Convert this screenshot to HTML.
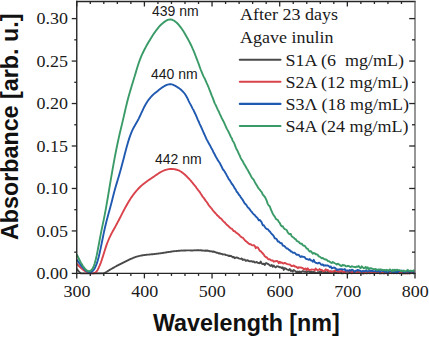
<!DOCTYPE html>
<html><head><meta charset="utf-8"><style>
html,body{margin:0;padding:0;background:#fff;width:429px;height:337px;overflow:hidden}
svg{display:block}
.serif{font-family:"Liberation Serif",serif;font-size:17.4px;fill:#1a1a1a}
.sans{font-family:"Liberation Sans",sans-serif;font-size:14px;fill:#1a1a1a}
.bold{font-family:"Liberation Sans",sans-serif;font-weight:bold;font-size:23.3px;fill:#111}
</style></head><body>
<svg width="429" height="337" viewBox="0 0 429 337">
<rect width="429" height="337" fill="#fff"/>
<path d="M76.75 268.72 L77.75 270.04 L78.75 271.29 L79.75 272.39 L80.75 273.27 L81.75 273.40 L82.75 273.40 L83.75 273.40 L84.75 273.40 L85.75 273.40 L86.75 273.40 L87.75 273.40 L88.75 273.40 L89.75 273.40 L90.75 273.40 L91.75 273.40 L92.75 273.40 L93.75 273.40 L94.75 273.40 L95.75 273.40 L96.75 273.40 L97.75 273.40 L98.75 273.40 L99.75 273.40 L100.75 273.40 L101.75 273.40 L102.75 273.40 L103.75 273.21 L104.75 272.81 L105.75 272.31 L106.75 271.76 L107.75 271.16 L108.75 270.54 L109.75 269.91 L110.75 269.31 L111.75 268.71 L112.75 268.13 L113.75 267.57 L114.75 267.01 L115.75 266.46 L116.75 265.92 L117.75 265.39 L118.75 264.86 L119.75 264.34 L120.75 263.83 L121.75 263.32 L122.75 262.82 L123.75 262.33 L124.75 261.83 L125.75 261.34 L126.75 260.86 L127.75 260.38 L128.75 259.90 L129.75 259.43 L130.75 258.97 L131.75 258.52 L132.75 258.10 L133.75 257.69 L134.75 257.31 L135.75 256.96 L136.75 256.64 L137.75 256.35 L138.75 256.09 L139.75 255.86 L140.75 255.66 L141.75 255.47 L142.75 255.31 L143.75 255.16 L144.75 255.03 L145.75 254.90 L146.75 254.79 L147.75 254.68 L148.75 254.58 L149.75 254.48 L150.75 254.38 L151.75 254.29 L152.75 254.19 L153.75 254.09 L154.75 253.99 L155.75 253.89 L156.75 253.78 L157.75 253.66 L158.75 253.53 L159.75 253.40 L160.75 253.25 L161.75 253.10 L162.75 252.95 L163.75 252.79 L164.75 252.63 L165.75 252.47 L166.75 252.31 L167.75 252.15 L168.75 251.99 L169.75 251.84 L170.75 251.69 L171.75 251.56 L172.75 251.42 L173.75 251.30 L174.75 251.18 L175.75 251.07 L176.75 250.97 L177.75 250.88 L178.75 250.80 L179.75 250.72 L180.75 250.67 L181.75 250.57 L182.75 250.58 L183.75 250.48 L184.75 250.55 L185.75 250.48 L186.75 250.42 L187.75 250.42 L188.75 250.37 L189.75 250.39 L190.75 250.44 L191.75 250.37 L192.75 250.46 L193.75 250.39 L194.75 250.32 L195.75 250.41 L196.75 250.28 L197.75 250.28 L198.75 250.15 L199.75 250.42 L200.75 250.13 L201.75 250.67 L202.75 250.42 L203.75 250.61 L204.75 250.77 L205.75 250.55 L206.75 250.75 L207.75 250.55 L208.75 250.91 L209.75 251.40 L210.75 251.15 L211.75 251.36 L212.75 251.74 L213.75 251.50 L214.75 251.97 L215.75 252.27 L216.75 252.88 L217.75 252.82 L218.75 253.48 L219.75 253.27 L220.75 253.78 L221.75 253.86 L222.75 254.43 L223.75 254.33 L224.75 254.37 L225.75 255.10 L226.75 255.09 L227.75 255.40 L228.75 256.03 L229.75 255.73 L230.75 255.96 L231.75 256.46 L232.75 257.31 L233.75 256.88 L234.75 258.22 L235.75 257.67 L236.75 257.52 L237.75 257.85 L238.75 258.37 L239.75 258.68 L240.75 258.83 L241.75 258.45 L242.75 259.96 L243.75 259.52 L244.75 259.66 L245.75 260.86 L246.75 260.52 L247.75 260.18 L248.75 261.09 L249.75 261.28 L250.75 261.09 L251.75 261.28 L252.75 261.83 L253.75 261.36 L254.75 262.47 L255.75 262.32 L256.75 261.98 L257.75 262.86 L258.75 262.93 L259.75 263.28 L260.75 261.54 L261.75 263.71 L262.75 264.04 L263.75 263.62 L264.75 265.00 L265.75 263.26 L266.75 263.19 L267.75 263.91 L268.75 264.43 L269.75 265.39 L270.75 265.97 L271.75 264.91 L272.75 266.72 L273.75 265.53 L274.75 266.80 L275.75 267.39 L276.75 266.30 L277.75 266.36 L278.75 266.74 L279.75 267.31 L280.75 267.30 L281.75 268.13 L282.75 267.36 L283.75 269.91 L284.75 268.11 L285.75 268.62 L286.75 269.32 L287.75 269.67 L288.75 270.30 L289.75 268.96 L290.75 270.90 L291.75 270.47 L292.75 271.51 L293.75 270.05 L294.75 270.72 L295.75 271.25 L296.75 273.03 L297.75 271.48 L298.75 272.66 L299.75 271.43 L300.75 272.59 L301.75 271.62 L302.75 271.21 L303.75 271.49 L304.75 271.82 L305.75 271.40 L306.75 272.24 L307.75 271.63 L308.75 271.54 L309.75 272.24 L310.75 271.99 L311.75 271.79 L312.75 272.17 L313.75 272.04 L314.75 272.12 L315.75 273.06 L316.75 273.13 L317.75 272.09 L318.75 272.41 L319.75 271.71 L320.75 272.75 L321.75 271.64 L322.75 271.94 L323.75 272.19 L324.75 271.61 L325.75 272.48 L326.75 272.34 L327.75 271.85 L328.75 272.85 L329.75 272.61 L330.75 272.57 L331.75 272.57 L332.75 271.53 L333.75 273.28 L334.75 271.17 L335.75 273.10 L336.75 272.90 L337.75 272.70 L338.75 272.06 L339.75 272.60 L340.75 272.53 L341.75 273.40 L342.75 273.40 L343.75 272.72 L344.75 271.69 L345.75 273.13 L346.75 273.40 L347.75 273.30 L348.75 273.19 L349.75 272.47 L350.75 272.23 L351.75 272.54 L352.75 272.65 L353.75 272.72 L354.75 272.37 L355.75 271.97 L356.75 272.73 L357.75 272.00 L358.75 272.21 L359.75 272.65 L360.75 273.40 L361.75 273.25 L362.75 273.02 L363.75 273.40 L364.75 272.52 L365.75 273.05 L366.75 273.40 L367.75 273.01 L368.75 272.09 L369.75 273.36 L370.75 272.64 L371.75 272.90 L372.75 272.00 L373.75 273.40 L374.75 272.48 L375.75 272.67 L376.75 271.91 L377.75 272.72 L378.75 272.56 L379.75 272.42 L380.75 273.40 L381.75 273.40 L382.75 272.31 L383.75 273.40 L384.75 272.45 L385.75 271.92 L386.75 272.47 L387.75 273.36 L388.75 273.27 L389.75 272.22 L390.75 272.69 L391.75 273.29 L392.75 271.92 L393.75 272.89 L394.75 272.87 L395.75 273.10 L396.75 273.27 L397.75 272.80 L398.75 272.49 L399.75 273.40 L400.75 271.51 L401.75 273.05 L402.75 273.40 L403.75 273.40 L404.75 273.06 L405.75 273.40 L406.75 272.09 L407.75 273.40 L408.75 272.79 L409.75 273.40 L410.75 272.52 L411.75 272.35 L412.75 272.82 L413.75 273.40 L414.75 272.31" fill="none" stroke="#4a4a4a" stroke-width="1.9" stroke-linejoin="round"/>
<path d="M76.75 263.73 L77.75 264.76 L78.75 265.78 L79.75 266.77 L80.75 267.73 L81.75 268.64 L82.75 269.49 L83.75 270.26 L84.75 270.93 L85.75 271.51 L86.75 271.99 L87.75 272.40 L88.75 272.73 L89.75 272.98 L90.75 273.18 L91.75 273.31 L92.75 273.38 L93.75 273.30 L94.75 272.98 L95.75 272.31 L96.75 271.20 L97.75 269.66 L98.75 267.72 L99.75 265.43 L100.75 262.83 L101.75 259.96 L102.75 256.88 L103.75 253.68 L104.75 250.46 L105.75 247.34 L106.75 244.41 L107.75 241.75 L108.75 239.33 L109.75 237.11 L110.75 235.06 L111.75 233.14 L112.75 231.30 L113.75 229.51 L114.75 227.72 L115.75 225.91 L116.75 224.05 L117.75 222.15 L118.75 220.22 L119.75 218.27 L120.75 216.31 L121.75 214.35 L122.75 212.41 L123.75 210.49 L124.75 208.61 L125.75 206.77 L126.75 204.97 L127.75 203.22 L128.75 201.53 L129.75 199.91 L130.75 198.34 L131.75 196.85 L132.75 195.43 L133.75 194.07 L134.75 192.78 L135.75 191.55 L136.75 190.38 L137.75 189.27 L138.75 188.22 L139.75 187.22 L140.75 186.27 L141.75 185.36 L142.75 184.50 L143.75 183.68 L144.75 182.90 L145.75 182.15 L146.75 181.43 L147.75 180.73 L148.75 180.05 L149.75 179.39 L150.75 178.73 L151.75 178.06 L152.75 177.40 L153.75 176.72 L154.75 176.03 L155.75 175.33 L156.75 174.64 L157.75 173.96 L158.75 173.30 L159.75 172.66 L160.75 172.06 L161.75 171.51 L162.75 171.00 L163.75 170.56 L164.75 170.17 L165.75 169.83 L166.75 169.56 L167.75 169.34 L168.75 169.17 L169.75 169.05 L170.75 168.99 L171.75 168.98 L172.75 169.02 L173.75 169.11 L174.75 169.26 L175.75 169.47 L176.75 169.74 L177.75 170.08 L178.75 170.48 L179.75 170.96 L180.75 171.52 L181.75 172.17 L182.75 172.89 L183.75 173.72 L184.75 174.54 L185.75 175.45 L186.75 176.46 L187.75 177.56 L188.75 178.47 L189.75 179.62 L190.75 180.59 L191.75 181.98 L192.75 183.12 L193.75 184.41 L194.75 185.55 L195.75 186.73 L196.75 188.26 L197.75 189.60 L198.75 190.78 L199.75 192.09 L200.75 193.76 L201.75 195.10 L202.75 196.94 L203.75 197.91 L204.75 199.36 L205.75 200.85 L206.75 202.00 L207.75 203.52 L208.75 205.33 L209.75 206.35 L210.75 207.55 L211.75 208.67 L212.75 210.26 L213.75 211.46 L214.75 212.52 L215.75 213.50 L216.75 214.74 L217.75 215.82 L218.75 216.61 L219.75 217.94 L220.75 218.26 L221.75 219.45 L222.75 220.67 L223.75 221.69 L224.75 222.35 L225.75 223.71 L226.75 224.85 L227.75 225.60 L228.75 226.44 L229.75 227.52 L230.75 228.28 L231.75 228.66 L232.75 229.82 L233.75 231.15 L234.75 231.17 L235.75 232.39 L236.75 233.04 L237.75 233.67 L238.75 234.44 L239.75 235.67 L240.75 236.59 L241.75 237.44 L242.75 237.64 L243.75 238.94 L244.75 240.04 L245.75 241.12 L246.75 241.84 L247.75 242.70 L248.75 243.57 L249.75 244.18 L250.75 244.14 L251.75 245.13 L252.75 245.35 L253.75 245.11 L254.75 245.92 L255.75 248.17 L256.75 247.26 L257.75 247.37 L258.75 248.90 L259.75 250.80 L260.75 251.09 L261.75 252.47 L262.75 253.32 L263.75 254.56 L264.75 256.30 L265.75 257.00 L266.75 257.38 L267.75 258.65 L268.75 259.41 L269.75 259.30 L270.75 260.07 L271.75 260.51 L272.75 260.38 L273.75 261.74 L274.75 261.28 L275.75 261.27 L276.75 260.88 L277.75 261.31 L278.75 263.14 L279.75 261.72 L280.75 262.83 L281.75 262.53 L282.75 263.25 L283.75 263.50 L284.75 262.90 L285.75 263.44 L286.75 263.93 L287.75 264.21 L288.75 264.41 L289.75 264.53 L290.75 265.39 L291.75 266.11 L292.75 265.95 L293.75 265.48 L294.75 266.47 L295.75 266.57 L296.75 267.10 L297.75 268.21 L298.75 267.24 L299.75 267.62 L300.75 267.34 L301.75 267.92 L302.75 267.96 L303.75 269.46 L304.75 268.86 L305.75 268.50 L306.75 270.16 L307.75 268.35 L308.75 269.79 L309.75 270.00 L310.75 269.85 L311.75 269.45 L312.75 269.62 L313.75 269.58 L314.75 270.34 L315.75 268.54 L316.75 269.70 L317.75 270.16 L318.75 269.77 L319.75 269.08 L320.75 270.08 L321.75 269.82 L322.75 270.80 L323.75 271.21 L324.75 270.46 L325.75 269.30 L326.75 270.39 L327.75 270.00 L328.75 271.01 L329.75 271.67 L330.75 270.89 L331.75 271.97 L332.75 271.70 L333.75 271.26 L334.75 270.38 L335.75 271.07 L336.75 270.19 L337.75 271.73 L338.75 271.23 L339.75 272.03 L340.75 271.43 L341.75 270.15 L342.75 271.75 L343.75 271.97 L344.75 272.46 L345.75 270.92 L346.75 271.00 L347.75 271.63 L348.75 271.01 L349.75 270.86 L350.75 271.07 L351.75 273.32 L352.75 271.42 L353.75 271.23 L354.75 271.60 L355.75 271.91 L356.75 272.72 L357.75 272.55 L358.75 272.49 L359.75 272.08 L360.75 272.18 L361.75 271.74 L362.75 271.25 L363.75 273.40 L364.75 271.94 L365.75 272.85 L366.75 272.08 L367.75 272.24 L368.75 272.23 L369.75 271.52 L370.75 272.32 L371.75 272.62 L372.75 272.91 L373.75 272.73 L374.75 273.07 L375.75 272.65 L376.75 272.49 L377.75 271.33 L378.75 272.21 L379.75 273.40 L380.75 272.64 L381.75 273.06 L382.75 272.47 L383.75 272.20 L384.75 273.40 L385.75 272.85 L386.75 273.40 L387.75 272.98 L388.75 272.49 L389.75 271.34 L390.75 272.75 L391.75 271.76 L392.75 271.38 L393.75 273.40 L394.75 273.16 L395.75 273.12 L396.75 272.78 L397.75 272.73 L398.75 273.01 L399.75 272.86 L400.75 272.82 L401.75 273.22 L402.75 271.31 L403.75 273.33 L404.75 272.42 L405.75 273.31 L406.75 273.40 L407.75 272.30 L408.75 273.29 L409.75 273.28 L410.75 272.39 L411.75 272.49 L412.75 272.88 L413.75 271.47 L414.75 272.54" fill="none" stroke="#d9434b" stroke-width="1.9" stroke-linejoin="round"/>
<path d="M76.75 259.62 L77.75 261.00 L78.75 262.37 L79.75 263.73 L80.75 265.06 L81.75 266.35 L82.75 267.57 L83.75 268.69 L84.75 269.68 L85.75 270.53 L86.75 271.21 L87.75 271.73 L88.75 272.06 L89.75 272.19 L90.75 272.09 L91.75 271.70 L92.75 270.97 L93.75 269.84 L94.75 268.27 L95.75 266.20 L96.75 263.60 L97.75 260.45 L98.75 256.71 L99.75 252.46 L100.75 247.83 L101.75 242.97 L102.75 238.03 L103.75 233.17 L104.75 228.54 L105.75 224.25 L106.75 220.27 L107.75 216.49 L108.75 212.84 L109.75 209.22 L110.75 205.54 L111.75 201.73 L112.75 197.77 L113.75 193.82 L114.75 190.02 L115.75 186.48 L116.75 183.12 L117.75 179.82 L118.75 176.47 L119.75 173.03 L120.75 169.48 L121.75 165.82 L122.75 162.03 L123.75 158.15 L124.75 154.24 L125.75 150.40 L126.75 146.69 L127.75 143.17 L128.75 139.89 L129.75 136.85 L130.75 134.08 L131.75 131.60 L132.75 129.42 L133.75 127.48 L134.75 125.70 L135.75 123.99 L136.75 122.28 L137.75 120.50 L138.75 118.58 L139.75 116.53 L140.75 114.40 L141.75 112.22 L142.75 110.06 L143.75 107.96 L144.75 105.97 L145.75 104.14 L146.75 102.47 L147.75 100.95 L148.75 99.56 L149.75 98.29 L150.75 97.12 L151.75 96.05 L152.75 95.06 L153.75 94.14 L154.75 93.27 L155.75 92.45 L156.75 91.65 L157.75 90.88 L158.75 90.10 L159.75 89.33 L160.75 88.57 L161.75 87.84 L162.75 87.15 L163.75 86.50 L164.75 85.91 L165.75 85.40 L166.75 84.96 L167.75 84.62 L168.75 84.38 L169.75 84.26 L170.75 84.27 L171.75 84.41 L172.75 84.67 L173.75 85.05 L174.75 85.52 L175.75 86.08 L176.75 86.70 L177.75 87.37 L178.75 88.08 L179.75 88.81 L180.75 89.59 L181.75 90.46 L182.75 91.36 L183.75 92.51 L184.75 93.73 L185.75 95.25 L186.75 96.95 L187.75 98.84 L188.75 101.08 L189.75 103.14 L190.75 104.89 L191.75 106.91 L192.75 108.87 L193.75 110.57 L194.75 112.75 L195.75 114.94 L196.75 117.15 L197.75 119.62 L198.75 121.72 L199.75 124.06 L200.75 126.22 L201.75 128.40 L202.75 130.57 L203.75 132.99 L204.75 135.07 L205.75 137.33 L206.75 139.63 L207.75 141.35 L208.75 143.29 L209.75 144.92 L210.75 146.91 L211.75 148.85 L212.75 150.51 L213.75 152.84 L214.75 154.51 L215.75 156.50 L216.75 158.18 L217.75 160.11 L218.75 161.47 L219.75 162.92 L220.75 165.01 L221.75 166.86 L222.75 169.23 L223.75 170.27 L224.75 171.78 L225.75 173.39 L226.75 175.39 L227.75 177.07 L228.75 179.21 L229.75 180.25 L230.75 181.88 L231.75 183.75 L232.75 184.89 L233.75 186.41 L234.75 188.46 L235.75 189.67 L236.75 191.82 L237.75 192.74 L238.75 194.51 L239.75 195.55 L240.75 197.19 L241.75 198.64 L242.75 199.91 L243.75 201.66 L244.75 203.48 L245.75 204.27 L246.75 205.61 L247.75 207.35 L248.75 208.01 L249.75 209.40 L250.75 210.81 L251.75 211.86 L252.75 213.24 L253.75 214.44 L254.75 214.99 L255.75 216.57 L256.75 217.35 L257.75 218.43 L258.75 220.22 L259.75 219.94 L260.75 221.06 L261.75 222.55 L262.75 225.21 L263.75 225.28 L264.75 226.83 L265.75 228.27 L266.75 228.97 L267.75 229.09 L268.75 230.56 L269.75 231.40 L270.75 232.79 L271.75 233.95 L272.75 234.88 L273.75 236.05 L274.75 238.37 L275.75 238.47 L276.75 239.25 L277.75 241.43 L278.75 241.45 L279.75 242.69 L280.75 243.18 L281.75 243.17 L282.75 245.67 L283.75 245.69 L284.75 246.38 L285.75 247.63 L286.75 248.47 L287.75 248.46 L288.75 249.75 L289.75 250.12 L290.75 251.49 L291.75 251.57 L292.75 252.75 L293.75 252.72 L294.75 252.75 L295.75 253.93 L296.75 254.80 L297.75 254.59 L298.75 254.96 L299.75 256.20 L300.75 257.01 L301.75 256.23 L302.75 256.81 L303.75 256.88 L304.75 257.24 L305.75 258.68 L306.75 259.14 L307.75 259.14 L308.75 259.88 L309.75 259.08 L310.75 260.37 L311.75 260.50 L312.75 261.77 L313.75 259.81 L314.75 262.08 L315.75 262.85 L316.75 263.05 L317.75 263.46 L318.75 262.69 L319.75 262.94 L320.75 264.30 L321.75 264.80 L322.75 264.35 L323.75 265.73 L324.75 265.28 L325.75 265.53 L326.75 265.44 L327.75 265.53 L328.75 265.98 L329.75 267.20 L330.75 266.41 L331.75 268.45 L332.75 267.97 L333.75 267.53 L334.75 267.68 L335.75 268.58 L336.75 270.02 L337.75 269.34 L338.75 269.85 L339.75 269.18 L340.75 269.12 L341.75 269.08 L342.75 269.67 L343.75 269.66 L344.75 269.10 L345.75 270.80 L346.75 270.43 L347.75 270.46 L348.75 270.88 L349.75 270.09 L350.75 270.85 L351.75 269.67 L352.75 269.95 L353.75 271.08 L354.75 271.65 L355.75 270.85 L356.75 270.46 L357.75 269.88 L358.75 270.57 L359.75 270.50 L360.75 271.04 L361.75 271.70 L362.75 270.95 L363.75 271.11 L364.75 271.47 L365.75 270.39 L366.75 270.87 L367.75 271.50 L368.75 271.06 L369.75 270.17 L370.75 271.17 L371.75 271.02 L372.75 270.96 L373.75 271.35 L374.75 271.10 L375.75 270.78 L376.75 271.58 L377.75 271.18 L378.75 270.64 L379.75 272.08 L380.75 271.21 L381.75 270.17 L382.75 271.04 L383.75 270.68 L384.75 271.87 L385.75 271.60 L386.75 271.96 L387.75 272.59 L388.75 271.48 L389.75 271.49 L390.75 271.01 L391.75 271.67 L392.75 272.39 L393.75 272.17 L394.75 271.19 L395.75 272.74 L396.75 270.99 L397.75 272.52 L398.75 271.26 L399.75 270.95 L400.75 271.34 L401.75 270.57 L402.75 271.39 L403.75 272.82 L404.75 272.11 L405.75 271.61 L406.75 271.59 L407.75 271.39 L408.75 271.85 L409.75 272.16 L410.75 271.37 L411.75 271.24 L412.75 271.65 L413.75 272.39 L414.75 271.76" fill="none" stroke="#2059b0" stroke-width="1.9" stroke-linejoin="round"/>
<path d="M76.75 254.30 L77.75 256.40 L78.75 258.47 L79.75 260.46 L80.75 262.35 L81.75 264.12 L82.75 265.74 L83.75 267.20 L84.75 268.49 L85.75 269.57 L86.75 270.41 L87.75 270.99 L88.75 271.26 L89.75 271.19 L90.75 270.71 L91.75 269.75 L92.75 268.23 L93.75 266.07 L94.75 263.20 L95.75 259.56 L96.75 255.15 L97.75 250.13 L98.75 244.79 L99.75 239.40 L100.75 234.16 L101.75 229.14 L102.75 224.34 L103.75 219.58 L104.75 214.65 L105.75 209.33 L106.75 203.69 L107.75 197.83 L108.75 191.86 L109.75 185.86 L110.75 179.91 L111.75 174.07 L112.75 168.37 L113.75 162.82 L114.75 157.45 L115.75 152.25 L116.75 147.24 L117.75 142.45 L118.75 137.87 L119.75 133.50 L120.75 129.28 L121.75 125.10 L122.75 120.90 L123.75 116.60 L124.75 112.22 L125.75 107.88 L126.75 103.69 L127.75 99.74 L128.75 96.03 L129.75 92.51 L130.75 89.12 L131.75 85.82 L132.75 82.57 L133.75 79.30 L134.75 75.97 L135.75 72.63 L136.75 69.31 L137.75 66.09 L138.75 63.03 L139.75 60.19 L140.75 57.59 L141.75 55.23 L142.75 53.04 L143.75 50.99 L144.75 49.02 L145.75 47.13 L146.75 45.31 L147.75 43.54 L148.75 41.82 L149.75 40.14 L150.75 38.50 L151.75 36.89 L152.75 35.33 L153.75 33.81 L154.75 32.35 L155.75 30.94 L156.75 29.59 L157.75 28.31 L158.75 27.11 L159.75 25.99 L160.75 24.96 L161.75 24.02 L162.75 23.16 L163.75 22.36 L164.75 21.64 L165.75 20.98 L166.75 20.40 L167.75 19.94 L168.75 19.61 L169.75 19.44 L170.75 19.45 L171.75 19.64 L172.75 20.00 L173.75 20.51 L174.75 21.14 L175.75 21.90 L176.75 22.78 L177.75 23.76 L178.75 24.86 L179.75 26.08 L180.75 27.35 L181.75 28.70 L182.75 30.21 L183.75 31.82 L184.75 33.49 L185.75 35.25 L186.75 36.96 L187.75 38.72 L188.75 40.67 L189.75 42.53 L190.75 44.49 L191.75 46.59 L192.75 48.91 L193.75 51.08 L194.75 53.56 L195.75 56.25 L196.75 58.91 L197.75 61.52 L198.75 64.20 L199.75 67.02 L200.75 69.74 L201.75 72.16 L202.75 74.52 L203.75 76.86 L204.75 78.55 L205.75 80.79 L206.75 83.12 L207.75 85.31 L208.75 87.74 L209.75 90.48 L210.75 92.84 L211.75 95.64 L212.75 97.89 L213.75 100.56 L214.75 103.36 L215.75 105.14 L216.75 107.45 L217.75 109.62 L218.75 111.42 L219.75 113.80 L220.75 115.87 L221.75 118.16 L222.75 119.99 L223.75 121.92 L224.75 124.15 L225.75 126.34 L226.75 128.65 L227.75 130.40 L228.75 132.29 L229.75 134.31 L230.75 136.69 L231.75 138.19 L232.75 140.96 L233.75 142.25 L234.75 144.69 L235.75 147.43 L236.75 149.57 L237.75 151.31 L238.75 153.72 L239.75 155.56 L240.75 158.10 L241.75 159.88 L242.75 161.24 L243.75 163.44 L244.75 164.89 L245.75 166.73 L246.75 168.49 L247.75 169.95 L248.75 172.08 L249.75 173.84 L250.75 175.56 L251.75 177.58 L252.75 178.69 L253.75 179.83 L254.75 181.91 L255.75 183.83 L256.75 185.30 L257.75 187.05 L258.75 188.62 L259.75 189.61 L260.75 191.06 L261.75 192.09 L262.75 194.61 L263.75 195.54 L264.75 196.80 L265.75 198.56 L266.75 200.83 L267.75 203.87 L268.75 205.52 L269.75 206.28 L270.75 209.21 L271.75 211.47 L272.75 213.65 L273.75 215.36 L274.75 216.54 L275.75 218.71 L276.75 219.54 L277.75 219.80 L278.75 221.86 L279.75 222.99 L280.75 225.10 L281.75 226.31 L282.75 226.20 L283.75 228.08 L284.75 229.18 L285.75 229.40 L286.75 230.15 L287.75 232.42 L288.75 233.63 L289.75 234.22 L290.75 233.93 L291.75 236.48 L292.75 237.03 L293.75 237.69 L294.75 238.83 L295.75 239.13 L296.75 240.92 L297.75 241.35 L298.75 241.79 L299.75 243.08 L300.75 243.68 L301.75 243.58 L302.75 245.19 L303.75 245.79 L304.75 245.79 L305.75 247.21 L306.75 248.61 L307.75 248.72 L308.75 250.66 L309.75 251.54 L310.75 251.04 L311.75 252.23 L312.75 253.76 L313.75 253.02 L314.75 253.32 L315.75 254.22 L316.75 254.26 L317.75 254.87 L318.75 256.39 L319.75 256.57 L320.75 257.52 L321.75 258.20 L322.75 257.97 L323.75 258.82 L324.75 259.26 L325.75 259.49 L326.75 259.84 L327.75 260.97 L328.75 261.12 L329.75 261.81 L330.75 262.60 L331.75 262.98 L332.75 262.06 L333.75 262.55 L334.75 263.23 L335.75 263.77 L336.75 264.55 L337.75 263.68 L338.75 264.26 L339.75 264.91 L340.75 265.72 L341.75 266.02 L342.75 264.79 L343.75 265.44 L344.75 265.25 L345.75 266.40 L346.75 266.31 L347.75 265.96 L348.75 265.93 L349.75 266.59 L350.75 267.12 L351.75 266.17 L352.75 266.54 L353.75 266.90 L354.75 266.93 L355.75 267.22 L356.75 266.50 L357.75 266.84 L358.75 266.03 L359.75 267.41 L360.75 268.12 L361.75 266.34 L362.75 267.30 L363.75 268.33 L364.75 267.81 L365.75 266.87 L366.75 268.82 L367.75 267.37 L368.75 269.16 L369.75 268.10 L370.75 268.14 L371.75 268.69 L372.75 268.77 L373.75 269.25 L374.75 269.30 L375.75 269.01 L376.75 269.99 L377.75 269.72 L378.75 269.55 L379.75 269.56 L380.75 269.50 L381.75 269.59 L382.75 270.11 L383.75 270.07 L384.75 269.87 L385.75 270.52 L386.75 269.81 L387.75 270.28 L388.75 270.59 L389.75 269.45 L390.75 270.00 L391.75 271.20 L392.75 269.66 L393.75 270.96 L394.75 269.66 L395.75 270.57 L396.75 269.71 L397.75 270.00 L398.75 270.17 L399.75 270.08 L400.75 271.03 L401.75 270.94 L402.75 270.97 L403.75 270.58 L404.75 271.45 L405.75 271.09 L406.75 270.68 L407.75 269.86 L408.75 270.90 L409.75 270.89 L410.75 270.55 L411.75 270.93 L412.75 270.96 L413.75 270.32 L414.75 270.84" fill="none" stroke="#3a9b68" stroke-width="1.9" stroke-linejoin="round"/>

<g stroke="#262626" stroke-width="1.3" fill="none">
<line x1="76.75" y1="0.8" x2="76.75" y2="274.09999999999997" stroke-width="1.4"/>
<line x1="76.05" y1="1.5" x2="415.7" y2="1.5" stroke-width="1.3"/>
<line x1="76.05" y1="273.4" x2="415.7" y2="273.4" stroke-width="1.4"/>
<line x1="415.0" y1="1.5" x2="415.0" y2="273.4" stroke-width="1.4" stroke="#6a6a6a"/>
<line x1="76.75" y1="273.4" x2="76.75" y2="278.4"/><line x1="76.75" y1="1.5" x2="76.75" y2="6.5"/><line x1="90.28" y1="273.4" x2="90.28" y2="275.9"/><line x1="90.28" y1="1.5" x2="90.28" y2="4.0"/><line x1="103.81" y1="273.4" x2="103.81" y2="275.9"/><line x1="103.81" y1="1.5" x2="103.81" y2="4.0"/><line x1="117.34" y1="273.4" x2="117.34" y2="275.9"/><line x1="117.34" y1="1.5" x2="117.34" y2="4.0"/><line x1="130.87" y1="273.4" x2="130.87" y2="275.9"/><line x1="130.87" y1="1.5" x2="130.87" y2="4.0"/><line x1="144.40" y1="273.4" x2="144.40" y2="278.4"/><line x1="144.40" y1="1.5" x2="144.40" y2="6.5"/><line x1="157.93" y1="273.4" x2="157.93" y2="275.9"/><line x1="157.93" y1="1.5" x2="157.93" y2="4.0"/><line x1="171.46" y1="273.4" x2="171.46" y2="275.9"/><line x1="171.46" y1="1.5" x2="171.46" y2="4.0"/><line x1="184.99" y1="273.4" x2="184.99" y2="275.9"/><line x1="184.99" y1="1.5" x2="184.99" y2="4.0"/><line x1="198.52" y1="273.4" x2="198.52" y2="275.9"/><line x1="198.52" y1="1.5" x2="198.52" y2="4.0"/><line x1="212.05" y1="273.4" x2="212.05" y2="278.4"/><line x1="212.05" y1="1.5" x2="212.05" y2="6.5"/><line x1="225.58" y1="273.4" x2="225.58" y2="275.9"/><line x1="225.58" y1="1.5" x2="225.58" y2="4.0"/><line x1="239.11" y1="273.4" x2="239.11" y2="275.9"/><line x1="239.11" y1="1.5" x2="239.11" y2="4.0"/><line x1="252.64" y1="273.4" x2="252.64" y2="275.9"/><line x1="252.64" y1="1.5" x2="252.64" y2="4.0"/><line x1="266.17" y1="273.4" x2="266.17" y2="275.9"/><line x1="266.17" y1="1.5" x2="266.17" y2="4.0"/><line x1="279.70" y1="273.4" x2="279.70" y2="278.4"/><line x1="279.70" y1="1.5" x2="279.70" y2="6.5"/><line x1="293.23" y1="273.4" x2="293.23" y2="275.9"/><line x1="293.23" y1="1.5" x2="293.23" y2="4.0"/><line x1="306.76" y1="273.4" x2="306.76" y2="275.9"/><line x1="306.76" y1="1.5" x2="306.76" y2="4.0"/><line x1="320.29" y1="273.4" x2="320.29" y2="275.9"/><line x1="320.29" y1="1.5" x2="320.29" y2="4.0"/><line x1="333.82" y1="273.4" x2="333.82" y2="275.9"/><line x1="333.82" y1="1.5" x2="333.82" y2="4.0"/><line x1="347.35" y1="273.4" x2="347.35" y2="278.4"/><line x1="347.35" y1="1.5" x2="347.35" y2="6.5"/><line x1="360.88" y1="273.4" x2="360.88" y2="275.9"/><line x1="360.88" y1="1.5" x2="360.88" y2="4.0"/><line x1="374.41" y1="273.4" x2="374.41" y2="275.9"/><line x1="374.41" y1="1.5" x2="374.41" y2="4.0"/><line x1="387.94" y1="273.4" x2="387.94" y2="275.9"/><line x1="387.94" y1="1.5" x2="387.94" y2="4.0"/><line x1="401.47" y1="273.4" x2="401.47" y2="275.9"/><line x1="401.47" y1="1.5" x2="401.47" y2="4.0"/><line x1="415.00" y1="273.4" x2="415.00" y2="278.4"/><line x1="76.75" y1="273.40" x2="71.75" y2="273.40"/><line x1="415.0" y1="273.40" x2="409.2" y2="273.40"/><line x1="76.75" y1="252.17" x2="74.25" y2="252.17"/><line x1="415.0" y1="252.17" x2="412.0" y2="252.17"/><line x1="76.75" y1="230.93" x2="71.75" y2="230.93"/><line x1="415.0" y1="230.93" x2="409.2" y2="230.93"/><line x1="76.75" y1="209.70" x2="74.25" y2="209.70"/><line x1="415.0" y1="209.70" x2="412.0" y2="209.70"/><line x1="76.75" y1="188.47" x2="71.75" y2="188.47"/><line x1="415.0" y1="188.47" x2="409.2" y2="188.47"/><line x1="76.75" y1="167.23" x2="74.25" y2="167.23"/><line x1="415.0" y1="167.23" x2="412.0" y2="167.23"/><line x1="76.75" y1="146.00" x2="71.75" y2="146.00"/><line x1="415.0" y1="146.00" x2="409.2" y2="146.00"/><line x1="76.75" y1="124.77" x2="74.25" y2="124.77"/><line x1="415.0" y1="124.77" x2="412.0" y2="124.77"/><line x1="76.75" y1="103.53" x2="71.75" y2="103.53"/><line x1="415.0" y1="103.53" x2="409.2" y2="103.53"/><line x1="76.75" y1="82.30" x2="74.25" y2="82.30"/><line x1="415.0" y1="82.30" x2="412.0" y2="82.30"/><line x1="76.75" y1="61.07" x2="71.75" y2="61.07"/><line x1="415.0" y1="61.07" x2="409.2" y2="61.07"/><line x1="76.75" y1="39.83" x2="74.25" y2="39.83"/><line x1="415.0" y1="39.83" x2="412.0" y2="39.83"/><line x1="76.75" y1="18.60" x2="71.75" y2="18.60"/><line x1="415.0" y1="18.60" x2="409.2" y2="18.60"/>
</g>
<g class="serif"><text transform="translate(68.00 279.00) scale(1.0345 1)" text-anchor="end">0.00</text><text transform="translate(68.00 236.53) scale(1.0345 1)" text-anchor="end">0.05</text><text transform="translate(68.00 194.07) scale(1.0345 1)" text-anchor="end">0.10</text><text transform="translate(68.00 151.60) scale(1.0345 1)" text-anchor="end">0.15</text><text transform="translate(68.00 109.13) scale(1.0345 1)" text-anchor="end">0.20</text><text transform="translate(68.00 66.67) scale(1.0345 1)" text-anchor="end">0.25</text><text transform="translate(68.00 24.20) scale(1.0345 1)" text-anchor="end">0.30</text><text transform="translate(77.05 297.30) scale(1.0345 1)" text-anchor="middle">300</text><text transform="translate(144.70 297.30) scale(1.0345 1)" text-anchor="middle">400</text><text transform="translate(212.35 297.30) scale(1.0345 1)" text-anchor="middle">500</text><text transform="translate(280.00 297.30) scale(1.0345 1)" text-anchor="middle">600</text><text transform="translate(347.65 297.30) scale(1.0345 1)" text-anchor="middle">700</text><text transform="translate(415.30 297.30) scale(1.0345 1)" text-anchor="middle">800</text>
<text transform="translate(240.00 20.40) scale(1.0345 1)" text-anchor="start">After 23 days</text>
<text transform="translate(240.00 42.90) scale(1.0345 1)" text-anchor="start">Agave inulin</text>
<line x1="239.8" y1="59.70" x2="280.5" y2="59.70" stroke="#4a4a4a" stroke-width="2.1" stroke-linecap="round"/><text transform="translate(285.50 66.00) scale(1.0345 1)" text-anchor="start" style="white-space:pre">S1A (6&#160; mg/mL)</text><line x1="239.8" y1="81.80" x2="280.5" y2="81.80" stroke="#d9434b" stroke-width="2.1" stroke-linecap="round"/><text transform="translate(285.50 88.10) scale(1.0345 1)" text-anchor="start" style="white-space:pre">S2A (12 mg/mL)</text><line x1="239.8" y1="103.90" x2="280.5" y2="103.90" stroke="#2059b0" stroke-width="2.1" stroke-linecap="round"/><text transform="translate(285.50 110.20) scale(1.0345 1)" text-anchor="start" style="white-space:pre">S3&#923; (18 mg/mL)</text><line x1="239.8" y1="126.00" x2="280.5" y2="126.00" stroke="#3a9b68" stroke-width="2.1" stroke-linecap="round"/><text transform="translate(285.50 132.30) scale(1.0345 1)" text-anchor="start" style="white-space:pre">S4A (24 mg/mL)</text>
</g>
<g class="sans">
<text x="152" y="16.3">439 nm</text>
<text x="151" y="79.1">440 nm</text>
<text x="155" y="163.7">442 nm</text>
</g>
<text class="bold" x="153" y="330.7">Wavelength [nm]</text>
<text class="bold" transform="translate(17.8 240.1) rotate(-90)">Absorbance [arb. u.]</text>
</svg>
</body></html>
